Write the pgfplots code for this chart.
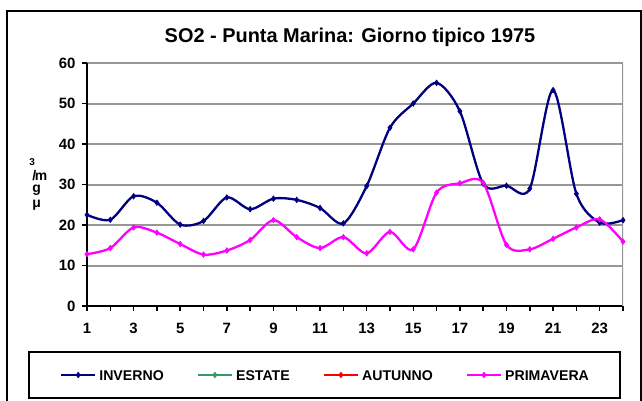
\documentclass[border=0pt]{standalone}
\usepackage{fontspec}
\setmainfont{Liberation Sans}
\usepackage{pgfplots}
\pgfplotsset{compat=1.18}
\definecolor{inv}{RGB}{0,0,128}
\definecolor{est}{RGB}{51,153,102}
\definecolor{aut}{RGB}{255,0,0}
\definecolor{pri}{RGB}{255,0,255}
\definecolor{gridg}{RGB}{150,150,150}
\begin{document}
\begin{tikzpicture}
\path[use as bounding box] (0bp,0bp) rectangle (642bp,401bp);
\clip (0bp,0bp) rectangle (642bp,401bp);
\fill[white] (0bp,0bp) rectangle (642bp,401bp);
\draw[black, line width=2bp] (7bp,-20bp) -- (7bp,390bp) -- (641bp,390bp) -- (641bp,-20bp);
\node[anchor=base, inner sep=0pt, font=\fontsize{20}{24}\selectfont\bfseries] at (350bp,358.5bp) {SO2 - Punta Marina: Giorno tipico 1975};
\begin{axis}[
  at={(87bp,95bp)}, anchor=south west,
  scale only axis, width=536bp, height=243bp,
  xmin=1, xmax=24, ymin=0, ymax=60,
  axis x line=bottom, axis y line=left,
  axis line style={-, line width=2bp, black},
  xtick={1,...,24},
  xticklabels={1,,3,,5,,7,,9,,11,,13,,15,,17,,19,,21,,23,},
  ytick={0,10,...,60},
  tick align=outside, major tick length=5bp,
  tick style={black, line width=1.5bp},
  ymajorgrids, major grid style={gridg, line width=2bp},
  /pgf/number format/assume math mode=true,
  ticklabel style={font=\fontsize{15}{17}\selectfont\bfseries},
  xticklabel style={yshift=-9bp},
  yticklabel style={xshift=-3bp},
  ylabel={\shortstack[l]{{\fontsize{10}{10}\selectfont\bfseries\kern-3bp 3}\\[1.5bp] /\kern-1.5bp m\\[1.5bp] g\\[1.5bp] μ}},
  ylabel style={at={(axis description cs:-0.088,0.5)}, anchor=center, rotate=-90, font=\fontsize{14}{12}\selectfont\bfseries, inner sep=0pt},
  legend columns=4,
  legend image code/.code={\draw[mark repeat=2,mark phase=2,#1] plot coordinates {(0bp,0bp) (17bp,0bp) (34bp,0bp)};},
  legend style={at={(0.4431,-0.284)}, anchor=center, draw=black, line width=2bp,
    inner xsep=31.5bp, inner ysep=18bp,
    font=\fontsize{14.2}{16}\selectfont\bfseries,
    nodes={inner sep=0pt, text height=10bp, text depth=0bp},
    /tikz/every odd column/.append style={column sep=3bp},
    /tikz/every even column/.append style={column sep=33bp}},
]
\addplot[inv, line width=2.3bp, smooth, mark=diamond*, mark size=2.8bp, mark options={solid, line width=0.6bp}] coordinates {
(1,22.5) (2,21.3) (3,27.1) (4,25.5) (5,20.1) (6,21.0) (7,26.8) (8,23.9)
(9,26.5) (10,26.2) (11,24.2) (12,20.4) (13,29.6) (14,44.0) (15,50.0) (16,55.1)
(17,48.1) (18,30.2) (19,29.7) (20,29.0) (21,53.3) (22,27.7) (23,20.6) (24,21.2)};
\addlegendentry{INVERNO}
\addlegendimage{est, line width=2.3bp, mark=diamond*, mark size=2.8bp, mark options={solid, line width=0.6bp}}
\addlegendentry{ESTATE}
\addlegendimage{aut, line width=2.3bp, mark=diamond*, mark size=2.8bp, mark options={solid, line width=0.6bp}}
\addlegendentry{AUTUNNO}
\addplot[pri, line width=2.3bp, smooth, mark=diamond*, mark size=2.8bp, mark options={solid, line width=0.6bp}] coordinates {
(1,12.8) (2,14.3) (3,19.4) (4,18.1) (5,15.3) (6,12.7) (7,13.7) (8,16.3)
(9,21.2) (10,17.0) (11,14.3) (12,17.0) (13,13.0) (14,18.3) (15,14.0) (16,28.0)
(17,30.3) (18,30.4) (19,15.1) (20,14.0) (21,16.6) (22,19.4) (23,21.4) (24,15.9)};
\addlegendentry{PRIMAVERA}
\draw[gridg, line width=2bp] (rel axis cs:1,0) -- (rel axis cs:1,1);
\end{axis}
\end{tikzpicture}
\end{document}
